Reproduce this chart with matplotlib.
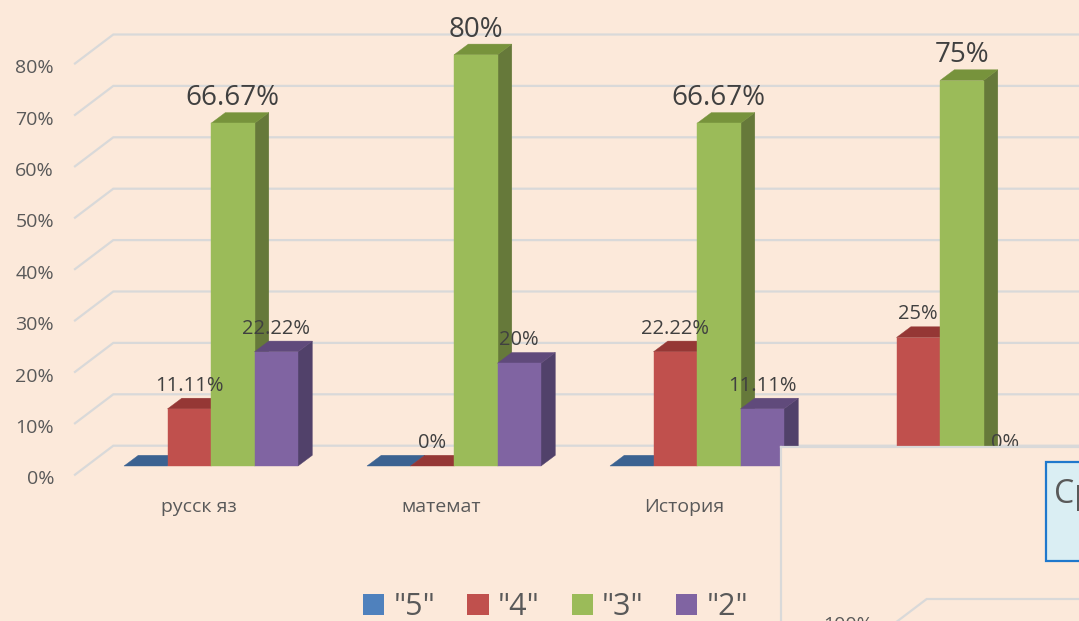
import matplotlib
matplotlib.use('Agg')
import matplotlib.pyplot as plt
from matplotlib.patches import Polygon, Rectangle, Patch

plt.rcParams['font.family'] = ['Open Sans', 'DejaVu Sans']

# ---------------- data ----------------
categories = ['русск яз', 'математ', 'История', 'География']
series_names = ['"5"', '"4"', '"3"', '"2"']
vals_5 = [0, 0, 0, 0]
vals_4 = [11.11, 0, 22.22, 25]
vals_3 = [66.67, 80, 66.67, 75]
vals_2 = [22.22, 20, 11.11, 0]
series_values = [vals_5, vals_4, vals_3, vals_2]
yticks = [0, 10, 20, 30, 40, 50, 60, 70, 80]
ytick_labels = [f'{t}%' for t in yticks]
overlay_title = 'Средний балл'
overlay_tick = '100%'

# ---------------- styles ----------------
BG = '#FCE9DA'
GRID = '#D9D9D9'
front_colors = ['#4F81BD', '#C0504D', '#9BBB59', '#8064A2']
top_colors = ['#3B6291', '#953735', '#77933C', '#604A7B']
side_colors = ['#385D8A', '#8A3634', '#66793A', '#51416A']
show_labels = [False, True, True, True]
label_sizes = [14.5, 14.5, 20, 14.5]

# ---------------- layout (pixels) ----------------
W, H = 1079, 621
PX_CAT = 243.0      # px per category
X0 = 211.0          # px of first group centre
PX_PCT = 5.14       # px per percent
Y0 = 466.0          # px of 0 % (bar front)
BAR_W = 43.5 / PX_CAT
DX = 14.3 / PX_CAT
DY = 10.7 / PX_PCT
GX_F = (75 - X0) / PX_CAT
GX_B = (113.3 - X0) / PX_CAT
GY_F = -(474.7 - Y0) / PX_PCT
GY_B = (Y0 - 445.7) / PX_PCT

fig = plt.figure(figsize=(W / 100, H / 100), dpi=100)
fig.patch.set_facecolor(BG)
ax = fig.add_axes([0, 0, 1, 1])
ax.set_facecolor(BG)
xmin, xmax = -X0 / PX_CAT, (W - X0) / PX_CAT
ax.set_xlim(xmin, xmax)
ax.set_ylim(-(H - Y0) / PX_PCT, Y0 / PX_PCT)
ax.axis('off')

# gridlines (side wall + back wall)
for v, lab in zip(yticks, ytick_labels):
    ax.plot([GX_F, GX_B, xmax + 1], [v + GY_F, v + GY_B, v + GY_B],
            color=GRID, lw=1.6, zorder=1, solid_joinstyle='miter')
    ax.text((54 - X0) / PX_CAT, v + GY_F - 9.7 / PX_PCT, lab, ha='right',
            va='baseline', fontsize=14, color='#595959')

# bars
for i in range(len(categories)):
    for j, vals in enumerate(series_values):
        v = vals[i]
        x0 = i - 2 * BAR_W + j * BAR_W
        x1 = x0 + BAR_W
        z = 2 + i + j * 0.1
        ax.add_patch(Polygon([(x1, 0), (x1 + DX, DY), (x1 + DX, v + DY), (x1, v)],
                             closed=True, facecolor=side_colors[j],
                             edgecolor=side_colors[j], lw=0.3, zorder=z))
        ax.add_patch(Polygon([(x0, v), (x1, v), (x1 + DX, v + DY), (x0 + DX, v + DY)],
                             closed=True, facecolor=top_colors[j],
                             edgecolor=top_colors[j], lw=0.3, zorder=z + 0.01))
        if v > 0:
            ax.add_patch(Rectangle((x0, 0), BAR_W, v, facecolor=front_colors[j],
                                   edgecolor=front_colors[j], lw=0.3, zorder=z + 0.02))
        if show_labels[j]:
            ax.text((x0 + x1) / 2, v + DY + 7.5 / PX_PCT, f'{v:g}%', ha='center',
                    va='baseline', fontsize=label_sizes[j], color='#404040', zorder=20)
    ax.text(i - 12.5 / PX_CAT, -(512.5 - Y0) / PX_PCT, categories[i], ha='center',
            va='baseline', fontsize=14, color='#595959')

# legend
handles = [Patch(facecolor=c, edgecolor='none') for c in front_colors]
fig.legend(handles, series_names, loc='center', bbox_to_anchor=(555.5 / W, (H - 607) / H),
           ncol=4, frameon=False, fontsize=22, handlelength=0.69, handleheight=0.69,
           handletextpad=0.3, columnspacing=1.06, labelcolor='#595959', borderpad=0)

# ---------------- overlaid second chart (cut off) ----------------
OV_L, OV_T = 780.7, 446.7
ov_w_px = W - OV_L + 60
ov_h_px = H - OV_T + 120
ax2 = fig.add_axes([OV_L / W, (H - OV_T - ov_h_px) / H, ov_w_px / W, ov_h_px / H])
ax2.set_facecolor(BG)
ax2.set_xlim(OV_L, OV_L + ov_w_px)
ax2.set_ylim(OV_T + ov_h_px, OV_T)
ax2.set_xticks([]); ax2.set_yticks([])
for s in ax2.spines.values():
    s.set_color(GRID)
    s.set_linewidth(1.6)
ax2.add_patch(Rectangle((1045.7, 462.3), 200, 99, facecolor='#DAEEF3',
                        edgecolor='#1F78CC', lw=1.6))
ax2.text(1054, 503, overlay_title, ha='left', va='baseline', fontsize=23, color='#595959')
ax2.plot([888.4, 926.7, 1300], [628, 599, 599], color=GRID, lw=1.6, solid_joinstyle='miter')
ax2.text(873, 630, overlay_tick, ha='right', va='baseline', fontsize=14, color='#595959')

fig.savefig('out.png', dpi=100, facecolor=BG)
